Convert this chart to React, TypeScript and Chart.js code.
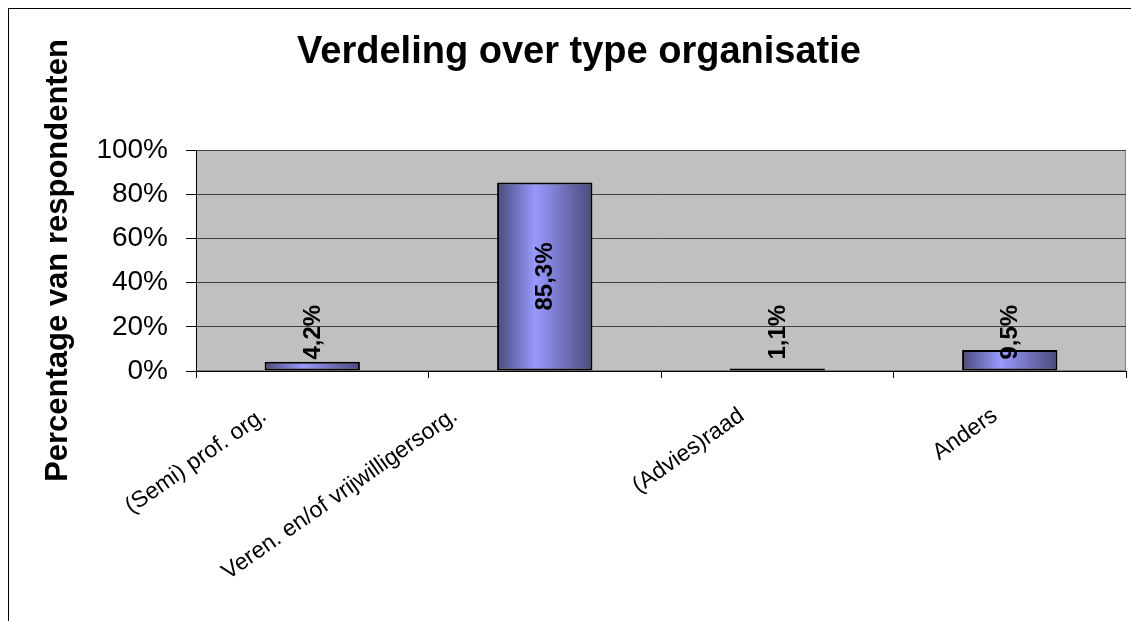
import React, { useEffect, useRef } from "react";
import { Chart, registerables } from "chart.js";

Chart.register(...registerables);

const TITLE = "Verdeling over type organisatie";
const Y_TITLE = "Percentage van respondenten";
const CATEGORIES = [
  "(Semi) prof. org.",
  "Veren. en/of vrijwilligersorg.",
  "(Advies)raad",
  "Anders",
];
const VALUES = [4.2, 85.3, 1.1, 9.5];
const Y_TICKS = [0, 20, 40, 60, 80, 100];

const FONT = '"Liberation Sans", Arial, sans-serif';
const BAR_FRACTION = 0.41;

const fmt = (v: number) => v.toFixed(1).replace(".", ",") + "%";

const plotBg = {
  id: "plotBg",
  beforeDraw(chart: any) {
    const { ctx, chartArea: a } = chart;
    ctx.save();
    ctx.fillStyle = "#C0C0C0";
    ctx.fillRect(a.left, a.top, a.right - a.left, a.bottom - a.top);
    ctx.strokeStyle = "#808080";
    ctx.lineWidth = 1;
    ctx.strokeRect(a.left + 0.5, a.top + 0.5, a.right - a.left - 1, a.bottom - a.top - 1);
    ctx.restore();
  },
};

const barLabels = {
  id: "barLabels",
  afterDatasetsDraw(chart: any) {
    const { ctx } = chart;
    const meta = chart.getDatasetMeta(0);
    const data = chart.data.datasets[0].data as number[];
    ctx.save();
    ctx.font = `bold 24px ${FONT}`;
    ctx.fillStyle = "#000";
    ctx.textAlign = "center";
    ctx.textBaseline = "middle";
    meta.data.forEach((el: any, i: number) => {
      const text = fmt(data[i]);
      const w = ctx.measureText(text).width;
      const mid = (el.y + el.base) / 2;
      const cy = Math.min(mid, el.base - 11 - w / 2);
      ctx.save();
      ctx.translate(el.x + 1, cy);
      ctx.rotate(-Math.PI / 2);
      ctx.fillText(text, 0, 0);
      ctx.restore();
    });
    ctx.restore();
  },
};

const xLabels = {
  id: "xLabels",
  afterDraw(chart: any) {
    const { ctx, chartArea } = chart;
    const xs = chart.scales.x;
    const labels = chart.data.labels as string[];
    ctx.save();
    ctx.font = `23px ${FONT}`;
    ctx.fillStyle = "#000";
    ctx.textAlign = "right";
    ctx.textBaseline = "top";
    labels.forEach((lab, i) => {
      const cx = xs.getPixelForValue(i);
      const L = ctx.measureText(lab).width;
      const ex = cx - (0.36 * L - 5);
      const ey = chartArea.bottom + 33;
      ctx.save();
      ctx.translate(ex, ey);
      ctx.rotate((-35 * Math.PI) / 180);
      ctx.fillText(lab, 0, 0);
      ctx.restore();
    });
    ctx.restore();
  },
};

function barGradient(c: any) {
  const chart = c.chart;
  const xs = chart.scales?.x;
  if (!xs || !chart.chartArea || c.dataIndex === undefined) return "#9999FF";
  const cx = xs.getPixelForValue(c.dataIndex);
  const bw = ((xs.right - xs.left) / CATEGORIES.length) * BAR_FRACTION;
  const g = chart.ctx.createLinearGradient(cx - bw / 2, 0, cx + bw / 2, 0);
  g.addColorStop(0, "#4A4A7A");
  g.addColorStop(0.4, "#9999FF");
  g.addColorStop(1, "#4A4A7A");
  return g;
}

export default function App() {
  const ref = useRef<HTMLCanvasElement | null>(null);
  useEffect(() => {
    if (!ref.current) return;
    const chart = new Chart(ref.current, {
      type: "bar",
      data: {
        labels: CATEGORIES,
        datasets: [
          {
            data: VALUES,
            backgroundColor: barGradient as any,
            borderColor: "#000",
            borderWidth: 2,
            borderSkipped: false,
            categoryPercentage: 1,
            barPercentage: BAR_FRACTION,
          },
        ],
      },
      options: {
        animation: false,
        responsive: false,
        devicePixelRatio: 1,
        layout: { padding: { left: 23, right: 23, top: 0, bottom: 0 } },
        plugins: {
          legend: { display: false },
          tooltip: { enabled: false },
          title: {
            display: true,
            text: TITLE,
            color: "#000",
            font: { family: FONT, size: 38, weight: "bold", lineHeight: 1.2 },
            padding: { top: 21, bottom: 74.4 },
          },
        },
        scales: {
          x: {
            type: "category",
            offset: true,
            grid: {
              display: true,
              offset: true,
              drawOnChartArea: false,
              drawTicks: true,
              tickLength: 7,
              color: "#000",
            },
            border: { display: true, color: "#000", width: 1 },
            ticks: { display: false },
            afterFit: (s: any) => {
              s.height = 250;
            },
          },
          y: {
            min: 0,
            max: 100,
            afterBuildTicks: (s: any) => {
              s.ticks = Y_TICKS.map((v) => ({ value: v }));
            },
            grid: {
              color: "#404040",
              lineWidth: 1,
              drawTicks: true,
              tickLength: 10,
              tickColor: "#000",
            },
            border: { display: true, color: "#000", width: 1 },
            ticks: {
              color: "#000",
              padding: 18,
              font: { family: FONT, size: 28 },
              callback: (v: any) => `${v}%`,
            },
            title: {
              display: true,
              text: Y_TITLE,
              color: "#000",
              font: { family: FONT, size: 31, weight: "bold", lineHeight: 1.2 },
              padding: { top: 8, bottom: 0 },
            },
            afterFit: (s: any) => {
              s.width = 164;
            },
          },
        },
      },
      plugins: [plotBg, barLabels, xLabels],
    });
    return () => chart.destroy();
  }, []);

  return (
    <div
      style={{
        position: "fixed",
        left: 8,
        top: 8,
        width: 1123,
        height: 613,
        overflow: "hidden",
        borderLeft: "1px solid #000",
        borderTop: "1px solid #000",
        boxSizing: "border-box",
        background: "#fff",
      }}
    >
      <canvas ref={ref} width={1140} height={612} style={{ display: "block" }} />
    </div>
  );
}
